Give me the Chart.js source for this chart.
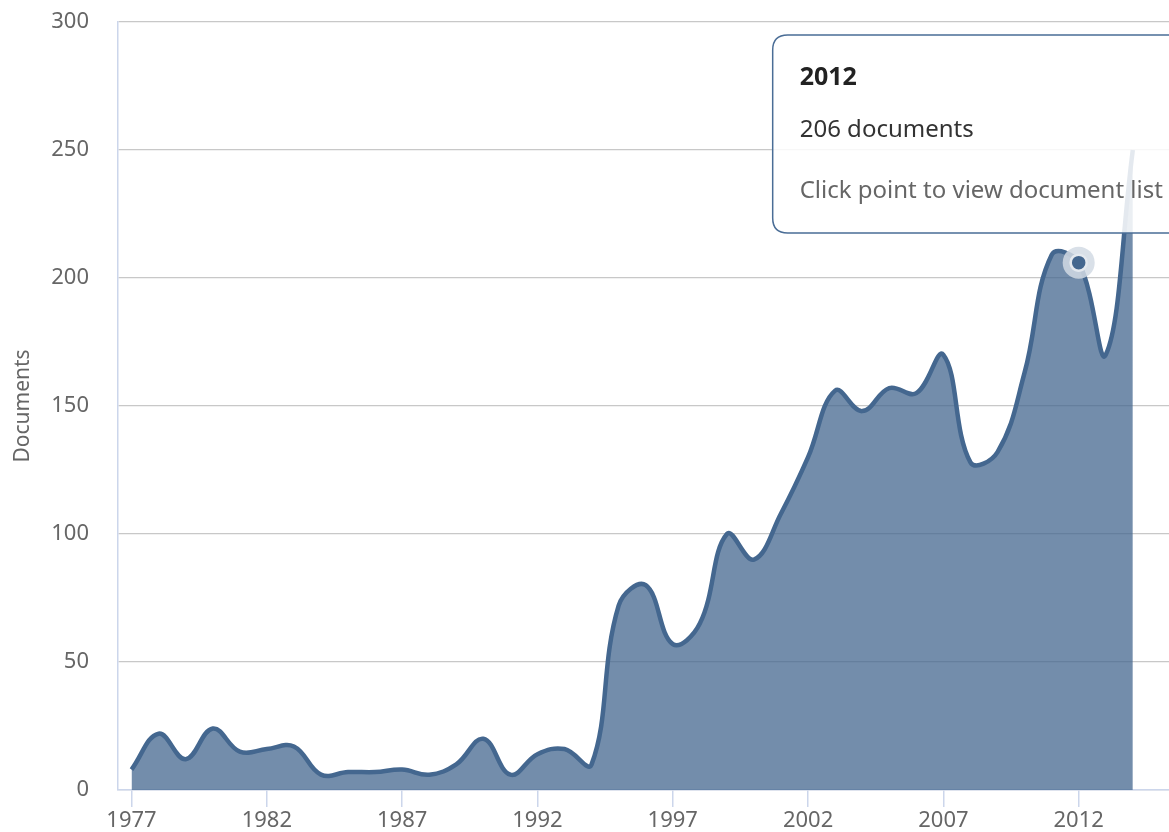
<!DOCTYPE html>
<html>
<head>
<meta charset="utf-8">
<script src="https://cdn.jsdelivr.net/npm/chart.js@4/dist/chart.umd.min.js"></script>
<style>
  body { margin: 0; background: #fff; }
  #wrap { width: 1169px; height: 832px; overflow: hidden; position: relative; }
</style>
</head>
<body>
<div id="wrap">
  <canvas id="grafico" width="1230" height="832"></canvas>
</div>
<script>
// documents per year
const anos = [1977, 1978, 1979, 1980, 1981, 1982, 1983, 1984, 1985, 1986,
              1987, 1988, 1989, 1990, 1991, 1992, 1993, 1994, 1995, 1996,
              1997, 1998, 1999, 2000, 2001, 2002, 2003, 2004, 2005, 2006,
              2007, 2008, 2009, 2010, 2011, 2012, 2013, 2014];
const documentos = [8, 22, 12, 24, 15, 16, 17, 6, 7, 7,
                    8, 6, 10, 20, 6, 14, 16, 10, 72, 80,
                    57, 65, 100, 90, 108, 130, 156, 148, 157, 155,
                    170, 128, 132, 163, 209, 206, 170, 250];
const ticksX = [1977, 1982, 1987, 1992, 1997, 2002, 2007, 2012];
const ticksY = [0, 50, 100, 150, 200, 250, 300];
const anoAtivo = 2012;

const fonte = "'Noto Sans', 'DejaVu Sans', sans-serif";
const corLinha = '#44678f';

Chart.Tooltip.positioners.caixaFixa = function (elements) {
  if (!elements.length) return false;
  const el = elements[0].element;
  return { x: el.x - 291, y: this.chart.chartArea.top + 13 };
};

// halo behind the hovered point
const halo = {
  id: 'halo',
  afterDatasetsDraw(chart) {
    const ativos = chart.getActiveElements();
    if (!ativos.length) return;
    const ctx = chart.ctx;
    ativos.forEach(a => {
      const p = a.element;
      ctx.save();
      ctx.beginPath();
      ctx.arc(p.x, p.y, 16, 0, Math.PI * 2);
      ctx.fillStyle = 'rgba(210,218,228,0.85)';
      ctx.fill();
      ctx.restore();
      p.draw(ctx, chart.chartArea);
    });
  }
};

const dados = anos.map((a, i) => ({ x: a, y: documentos[i] }));

const chart = new Chart(document.getElementById('grafico').getContext('2d'), {
  type: 'line',
  data: {
    datasets: [{
      data: dados,
      borderColor: corLinha,
      backgroundColor: 'rgba(68,103,143,0.75)',
      borderWidth: 4.5,
      fill: 'origin',
      tension: 0.4,
      pointRadius: 0,
      pointHitRadius: 0,
      pointHoverRadius: 8,
      pointHoverBorderWidth: 2.5,
      pointHoverBackgroundColor: corLinha,
      pointHoverBorderColor: '#e4e9ef'
    }]
  },
  options: {
    responsive: false,
    animation: false,
    events: [],
    layout: { padding: { top: 22, right: 16, bottom: 0, left: 0 } },
    scales: {
      x: {
        type: 'linear',
        min: 1976.5,
        max: 2017,
        afterBuildTicks: s => { s.ticks = ticksX.map(v => ({ value: v })); },
        afterFit: s => { s.height = 42; },
        grid: { drawOnChartArea: false, drawTicks: true, tickLength: 17, color: '#ccd6eb', lineWidth: 1.5 },
        border: { display: true, color: '#ccd6eb', width: 1.5 },
        ticks: {
          padding: 1,
          maxRotation: 0,
          autoSkip: false,
          color: '#666',
          font: { family: fonte, size: 22 },
          callback: v => String(v)
        }
      },
      y: {
        min: 0,
        max: 300,
        afterBuildTicks: s => { s.ticks = ticksY.map(v => ({ value: v })); },
        afterFit: s => { s.width = 118; s.paddingTop = 0; s.paddingBottom = 0; },
        grid: { color: '#c8c8c8', lineWidth: 1.2, drawTicks: false },
        border: { display: true, color: '#ccd6eb', width: 1.5 },
        ticks: { padding: 29, color: '#666', font: { family: fonte, size: 22 } },
        title: {
          display: true,
          text: 'Documents',
          color: '#666',
          padding: { top: 10, bottom: 0 },
          font: { family: fonte, size: 21 }
        }
      }
    },
    plugins: {
      legend: { display: false },
      tooltip: {
        position: 'caixaFixa',
        xAlign: 'left',
        yAlign: 'top',
        caretSize: 0,
        caretPadding: 0,
        cornerRadius: 15,
        backgroundColor: 'rgba(255,255,255,0.86)',
        borderColor: '#4a6d96',
        borderWidth: 1.5,
        padding: { top: 30, bottom: 30, left: 27, right: 27 },
        displayColors: false,
        titleFont: { family: fonte, size: 25, weight: 'bold', lineHeight: 1 },
        titleColor: '#222',
        titleMarginBottom: 28,
        bodyFont: { family: fonte, size: 24, lineHeight: 1 },
        bodyColor: '#333',
        footerFont: { family: fonte, size: 24, weight: 'normal', lineHeight: 1 },
        footerColor: '#666',
        footerMarginTop: 37,
        callbacks: {
          title: items => String(anos[items[0].dataIndex]),
          label: item => item.raw.y + ' documents',
          footer: () => 'Click point to view document list'
        }
      }
    }
  },
  plugins: [halo]
});

const idx = anos.indexOf(anoAtivo);
chart.setActiveElements([{ datasetIndex: 0, index: idx }]);
chart.tooltip.setActiveElements([{ datasetIndex: 0, index: idx }], { x: 0, y: 0 });
chart.update();
</script>
</body>
</html>
